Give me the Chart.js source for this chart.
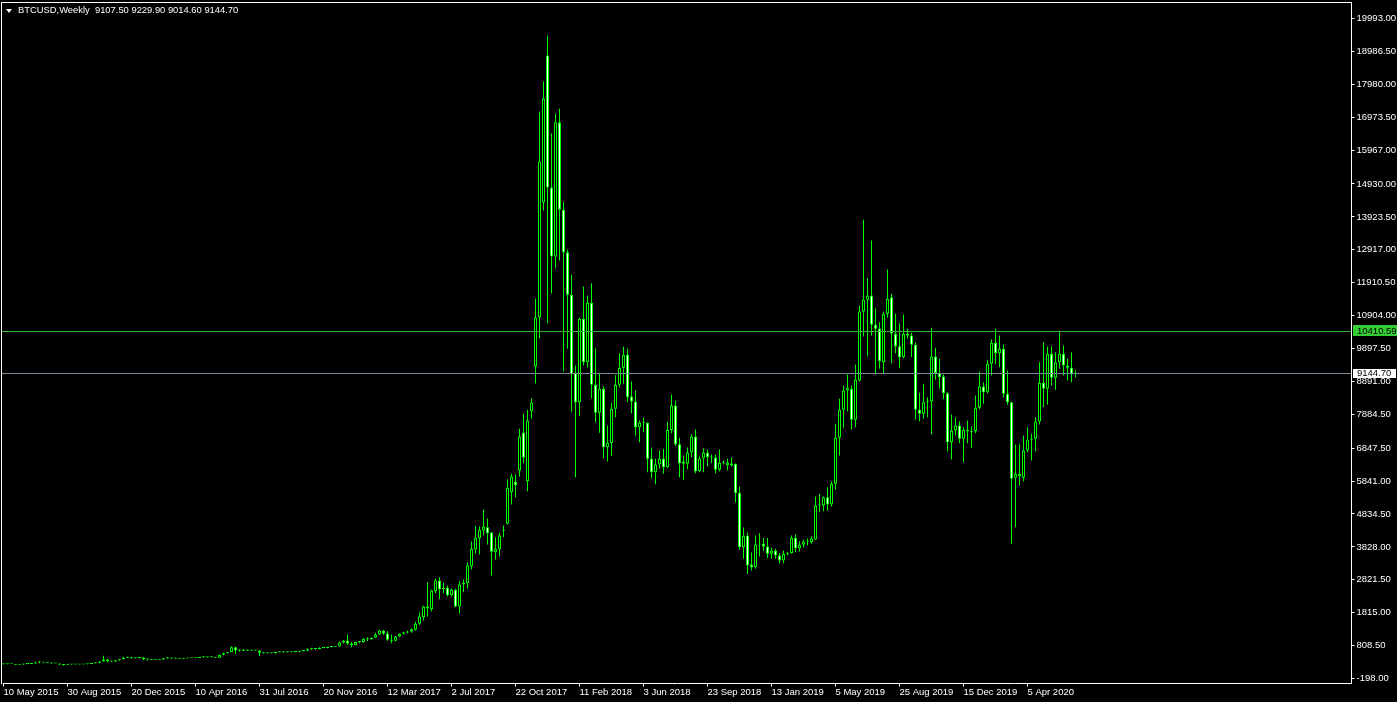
<!DOCTYPE html>
<html>
<head>
<meta charset="utf-8">
<title>BTCUSD Weekly</title>
<script src="https://cdn.jsdelivr.net/npm/chart.js@4.4.1/dist/chart.umd.min.js"></script>
<style>
  html, body { margin: 0; padding: 0; background: #000; overflow: hidden; }
  #wrap { width: 1397px; height: 702px; }
</style>
</head>
<body>
<div id="wrap"><canvas id="myChart" width="1397" height="702"></canvas></div>
<script>
// header line of the chart window
const symbolTitle = "BTCUSD,Weekly  9107.50 9229.90 9014.60 9144.70";

// weekly bars, first one on 10 May 2015, chart shows 338 week slots
const firstWeekUTC = Date.UTC(2015, 4, 10);
const weekSlots = 338;

const dateTicks = ["10 May 2015", "30 Aug 2015", "20 Dec 2015", "10 Apr 2016", "31 Jul 2016",
  "20 Nov 2016", "12 Mar 2017", "2 Jul 2017", "22 Oct 2017", "11 Feb 2018", "3 Jun 2018",
  "23 Sep 2018", "13 Jan 2019", "5 May 2019", "25 Aug 2019", "15 Dec 2019", "5 Apr 2020"];

const priceTicks = [19993, 18986.5, 17980, 16973.5, 15967, 14930, 13923.5, 12917, 11910.5, 10904,
  9897.5, 8891, 7884.5, 6847.5, 5841, 4834.5, 3828, 2821.5, 1815, 808.5, -198];

const opens = [
  241,237,240,237,225,229,246,248,259,292,
  288,289,282,262,259,232,222,240,229,231,
  233,240,246,270,284,325,382,332,323,362,
  389,434,454,422,431,448,383,395,378,373,
  380,422,432,414,412,410,416,420,421,427,
  450,455,460,455,440,527,575,606,756,660,
  672,650,664,658,655,588,577,580,573,610,
  608,609,603,610,618,640,654,700,705,703,
  738,733,765,772,782,900,965,870,820,920,
  915,1015,1000,1050,1150,1265,1175,984,955,1086,
  1168,1209,1239,1290,1474,1678,2004,1932,2473,2799,
  2534,2575,2351,2514,2004,2677,2718,3238,3748,4095,
  4329,4431,4268,3666,3758,4319,4533,5502,5818,6165,
  7327,5838,7980,9347,10846,14364,18861,14823,12712,16821,
  14140,12844,11540,9153,8254,10806,9479,11295,8787,7930,
  8665,6878,7005,8051,8786,9305,9703,8428,8275,7490,
  7633,7623,6521,6113,6348,6521,6266,7408,8153,6970,
  6440,6368,6715,7204,6144,6531,6715,6572,6562,6185,
  6409,6327,6378,6368,5481,3819,4166,3288,3207,3901,
  3921,3840,3615,3717,3564,3411,3615,3640,4105,3789,
  3891,3993,3972,4054,5094,5094,5349,5124,5757,7164,
  8021,8612,8663,7715,8918,11029,11386,11519,10621,10499,
  9479,10958,11468,10346,9969,9632,10346,10295,10010,8021,
  7899,8256,8276,9653,9143,9040,8531,7032,7389,7542,
  7134,7409,7369,7369,8082,8735,8562,9428,10071,9755,
  9887,8510,8256,5941,5990,5941,6777,7103,7134,7664,
  8847,8664,9734,9000,9480,9734,9378,9306,9107.5
];

const highs = [
  246,241,241,238,232,252,250,262,317,330,
  292,298,284,268,262,234,242,245,234,236,
  241,249,272,285,334,495,395,338,368,402,
  466,467,465,440,462,450,415,398,392,390,
  426,440,440,422,418,420,424,424,431,451,
  468,465,463,458,535,590,610,780,770,700,
  705,680,679,665,665,597,585,585,615,630,
  612,612,612,620,645,660,720,740,720,755,
  755,770,775,790,930,980,1140,920,930,925,
  1030,1065,1060,1200,1290,1290,1250,1147,1100,1180,
  1230,1260,1330,1535,1820,2030,2748,2520,2850,2901,
  2738,2636,2554,2545,2779,2830,3350,3992,4472,4451,
  4971,4696,4280,4125,4258,4482,5889,6063,6043,7439,
  7898,8021,8367,11427,17148,18066,19474,16475,17077,17230,
  14373,12925,12151,9377,10836,11794,11519,11896,9907,9153,
  8746,7541,8240,9080,9754,9948,9897,8887,8612,7694,
  7776,7640,6868,6521,6776,6827,7663,8490,8306,7164,
  6623,6868,7276,7419,6593,6837,6797,6654,6654,6807,
  6470,6521,6562,6380,5675,4421,4268,3656,4176,4248,
  4100,4103,3799,3768,3640,3717,3666,4176,4207,4003,
  4044,4085,4146,5369,5451,5369,5655,5828,7592,8357,
  8765,9102,8765,9408,11213,13834,12059,13201,11131,10703,
  11029,12314,11570,10958,10673,10938,10499,10377,10091,8541,
  8817,8409,10530,9918,9581,9102,8562,7878,7797,7674,
  7491,7695,7521,8460,9194,8867,9551,10173,10499,10295,
  10020,9225,8266,6961,6981,7236,7491,7287,7797,9480,
  10091,9959,9959,9785,10397,9989,9581,9785,9229.9
];

const lows = [
  233,232,236,221,223,225,240,248,259,270,
  272,280,258,258,215,199,220,227,226,228,
  232,236,245,263,280,320,300,310,316,355,
  388,430,415,415,425,365,350,375,365,370,
  378,405,405,395,405,408,412,418,419,426,
  440,442,448,435,438,515,570,605,550,620,
  640,640,652,645,480,570,565,570,568,605,
  590,594,600,608,616,634,652,680,690,700,
  725,725,755,765,780,880,830,760,815,880,
  905,950,995,1045,1135,1130,960,882,940,1070,
  1150,1180,1200,1270,1440,1576,1698,1861,2412,2228,
  2412,2310,2310,1984,1800,2442,2554,3136,3615,3595,
  4176,3901,2952,3442,3534,4125,4513,5124,5349,5981,
  6389,5532,7756,8827,10203,14120,10671,11580,12355,12590,
  9194,9888,7949,5960,7826,9377,9316,8378,7643,7318,
  6541,6439,6610,7795,8714,8816,8255,7918,7215,7031,
  7337,6113,5930,5746,6216,6062,6246,7306,6909,5960,
  5879,6205,6572,6083,6113,6113,6287,6389,6083,6144,
  6348,6164,6287,5196,3737,3462,2997,3105,3156,3534,
  3700,3492,3462,3462,3330,3330,3564,3615,3666,3686,
  3819,3870,3921,4044,4890,4920,4941,5063,5573,6624,
  7460,7980,7419,7490,8898,10264,9663,10295,9102,9275,
  9122,10836,9448,9754,9296,9602,10193,9632,7725,7674,
  7746,7797,7266,8939,8663,8347,6757,6501,7236,7001,
  6420,7001,6859,7307,8041,8205,8531,9071,9428,9326,
  8409,8174,3921,4432,5706,5839,6726,6471,6757,7572,
  8103,8184,8766,8633,9275,9071,8918,8867,9014.6
];

const closes = [
  237,240,237,225,229,246,248,259,292,288,
  289,282,262,259,232,215,240,229,231,233,
  240,246,270,284,325,382,332,323,362,389,
  434,454,422,431,448,383,395,378,373,380,
  422,432,414,412,410,416,420,421,427,450,
  455,460,455,440,527,575,606,756,660,672,
  650,664,658,655,588,577,580,573,610,608,
  609,603,610,618,640,654,700,705,703,738,
  733,765,772,782,900,960,870,820,920,915,
  1015,1000,1050,1150,1270,1175,984,955,1086,1168,
  1209,1239,1310,1474,1698,2004,1940,2493,2799,2534,
  2580,2351,2514,2004,2677,2728,3258,3768,4105,4349,
  4451,4247,3676,3768,4176,4349,5634,5981,5716,7205,
  6552,7694,8245,10846,15618,17546,14823,12712,16821,14140,
  12844,11540,9112,8254,10806,9479,11295,8787,7930,8665,
  6878,7015,8051,8786,9300,9703,8408,8275,7490,7633,
  7623,6521,6113,6348,6521,6266,7408,8153,6970,6389,
  6368,6715,7204,6144,6531,6715,6572,6562,6185,6399,
  6404,6409,6317,5471,3819,4166,3258,3207,3901,3921,
  3830,3615,3717,3564,3411,3615,3640,4105,3789,3891,
  3993,4003,4084,5094,5104,5349,5124,5757,7164,8021,
  8612,8684,7715,8938,11029,11386,11519,10621,10499,9510,
  10958,11417,10346,9969,9632,10346,10295,10010,8021,7899,
  8256,8276,9653,9143,9020,8531,7032,7389,7542,7134,
  7409,7369,7338,8082,8735,8562,9428,10071,9755,9887,
  8510,8256,5910,6063,6063,6777,7103,7134,7664,8847,
  8664,9734,9000,9480,9734,9378,9306,9102,9144.7
];

// horizontal lines: a level line and the current bid
const levelPrice = 10410.59;
const bidPrice = 9144.70;

const FONT = "'Liberation Sans', Arial, sans-serif";
const LIME = "#00ff00";

const monthNames = ["Jan","Feb","Mar","Apr","May","Jun","Jul","Aug","Sep","Oct","Nov","Dec"];
const weeks = [];
for (let i = 0; i < weekSlots; i++) {
  const d = new Date(firstWeekUTC + i * 7 * 86400000);
  weeks.push(d.getUTCDate() + " " + monthNames[d.getUTCMonth()] + " " + d.getUTCFullYear());
}

const mtOverlay = {
  id: "mtOverlay",
  afterDatasetsDraw(chart) {
    const ctx = chart.ctx, y = chart.scales.y;
    ctx.save();
    ctx.fillStyle = "#32b432";
    ctx.fillRect(2, Math.floor(y.getPixelForValue(levelPrice)), 1349, 1);
    ctx.fillStyle = "#778899";
    ctx.fillRect(2, Math.floor(y.getPixelForValue(bidPrice)), 1349, 1);
    ctx.restore();
  },
  afterDraw(chart) {
    const ctx = chart.ctx, y = chart.scales.y;
    ctx.save();
    // frame, left and top
    ctx.fillStyle = "#ffffff";
    ctx.fillRect(1, 2, 1, 682);
    ctx.fillRect(1, 2, 1351, 1);
    // title
    ctx.beginPath();
    ctx.moveTo(6, 9); ctx.lineTo(12, 9); ctx.lineTo(9, 13); ctx.closePath();
    ctx.fill();
    ctx.font = "9.4px " + FONT;
    ctx.textBaseline = "middle";
    ctx.fillText(symbolTitle, 18, 10.7);
    // price boxes on the axis
    ctx.font = "9.5px " + FONT;
    const yl = Math.floor(y.getPixelForValue(levelPrice));
    ctx.fillStyle = "#33cc33";
    ctx.fillRect(1353, yl - 6, 44, 11);
    ctx.fillStyle = "#000";
    ctx.fillText(levelPrice.toFixed(2), 1357, yl);
    const yb = Math.floor(y.getPixelForValue(bidPrice));
    ctx.fillStyle = "#ffffff";
    ctx.fillRect(1353, yb - 4, 43, 9);
    ctx.fillStyle = "#000";
    ctx.fillText(bidPrice.toFixed(2), 1357, yb + 0.5);
    ctx.restore();
  }
};

const ctx = document.getElementById("myChart");

new Chart(ctx, {
  type: "bar",
  data: {
    labels: weeks,
    datasets: [
      {
        label: "Body",
        data: opens.map((o, i) => [o, closes[i]]),
        backgroundColor: opens.map((o, i) => (closes[i] >= o ? "#000000" : "#ffffff")),
        borderColor: LIME,
        borderWidth: 1,
        borderSkipped: false,
        barThickness: 3,
        maxBarThickness: 3,
        minBarLength: 1,
        inflateAmount: 0,
        grouped: false,
        clip: false,
        order: 0,
      },
      {
        label: "Range",
        data: lows.map((l, i) => [l, highs[i]]),
        backgroundColor: LIME,
        borderWidth: 0,
        barThickness: 1,
        maxBarThickness: 1,
        inflateAmount: 0,
        grouped: false,
        clip: false,
        order: 1,
      },
    ],
  },
  plugins: [mtOverlay],
  options: {
    responsive: false,
    animation: false,
    devicePixelRatio: 1,
    layout: { padding: { left: 3.5, top: 2.5, right: 0, bottom: 0 } },
    plugins: { legend: { display: false }, tooltip: { enabled: false } },
    scales: {
      x: {
        offset: false,
        afterFit: (s) => { s.height = 18.5; s.paddingLeft = 0; s.paddingRight = 0; },
        grid: {
          offset: false,
          drawOnChartArea: false,
          drawTicks: true,
          tickLength: 3,
          color: (c) => (c.index % 16 === 0 && c.index <= 256 ? "#ffffff" : "rgba(0,0,0,0)"),
        },
        border: { display: true, color: "#ffffff" },
        ticks: {
          autoSkip: false,
          maxRotation: 0,
          minRotation: 0,
          align: "start",
          padding: 0,
          color: "#ffffff",
          font: { family: FONT, size: 9.5 },
          callback: (v, i) => (i % 16 === 0 && dateTicks[i / 16] ? dateTicks[i / 16] : ""),
        },
      },
      y: {
        position: "right",
        min: -350.96,
        max: 20482.5,
        afterBuildTicks: (s) => { s.ticks = priceTicks.map((v) => ({ value: v })); },
        afterFit: (s) => { s.width = 45.5; s.paddingTop = 0; s.paddingBottom = 0; },
        grid: { drawOnChartArea: false, drawTicks: true, tickLength: 3, color: "#ffffff" },
        border: { display: true, color: "#ffffff" },
        ticks: {
          autoSkip: false,
          padding: 2,
          color: "#ffffff",
          font: { family: FONT, size: 9.5 },
          callback: (v) => Number(v).toFixed(2),
        },
      },
    },
  },
});
</script>
</body>
</html>
